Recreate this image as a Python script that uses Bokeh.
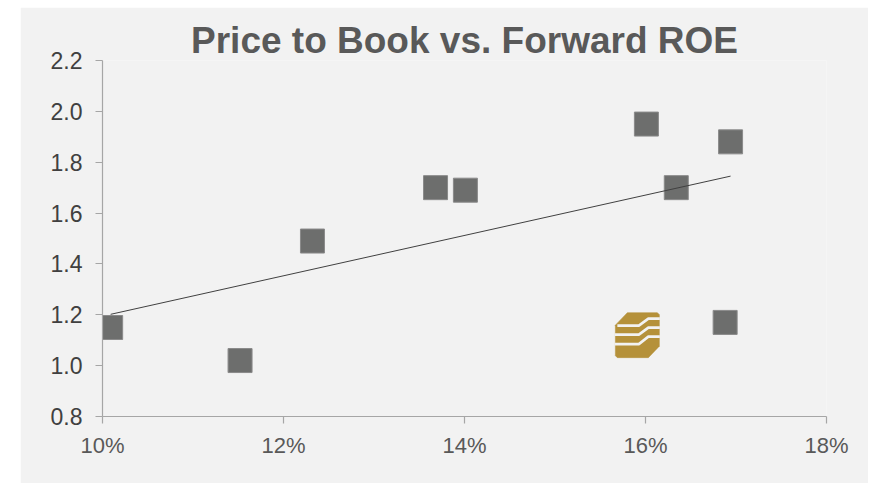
import numpy as np
from bokeh.plotting import figure
from bokeh.models import FixedTicker, Spacer
from bokeh.layouts import row, column
from bokeh.embed import file_html
from bokeh.resources import INLINE

# ---- data ----
roe = [10.09, 11.52, 12.32, 13.68, 14.01, 16.01, 16.34, 16.94, 16.88]   # forward ROE, %
pb = [1.15, 1.02, 1.49, 1.70, 1.69, 1.95, 1.70, 1.88, 1.17]            # price to book
logo_roe = 15.91
logo_pb = 1.12
x_ticks = [10, 12, 14, 16, 18]
x_tick_labels = ["10%", "12%", "14%", "16%", "18%"]
y_ticks = [0.8, 1.0, 1.2, 1.4, 1.6, 1.8, 2.0, 2.2]
y_tick_labels = ["0.8", "1.0", "1.2", "1.4", "1.6", "1.8", "2.0", "2.2"]
title_text = "Price to Book vs. Forward ROE"

FONT = "Liberation Sans"
BG = "#f2f2f2"

W, H = 848, 476
ML, MR, MT, MB = 82, 42, 53, 67

p = figure(width=W, height=H, output_backend="svg", toolbar_location=None,
           title=title_text,
           x_range=(x_ticks[0], x_ticks[-1]), y_range=(y_ticks[0], y_ticks[-1]),
           min_border_left=ML, min_border_right=MR, min_border_top=MT, min_border_bottom=MB)
p.background_fill_color = BG
p.border_fill_color = BG
p.outline_line_color = None
p.xgrid.visible = False
p.ygrid.visible = False

p.title.text_font = FONT
p.title.text_font_size = "37px"
p.title.text_font_style = "bold"
p.title.text_color = "#595959"
p.title.align = "center"
p.title.offset = 12
p.title.standoff = 0

for ax in (p.xaxis[0], p.yaxis[0]):
    ax.axis_line_color = "#a6a6a6"
    ax.axis_line_width = 1.2
    ax.major_tick_line_color = "#a6a6a6"
    ax.major_tick_line_width = 1.2
    ax.major_tick_in = 0
    ax.major_tick_out = 7
    ax.minor_tick_line_color = None
    ax.major_label_text_font = FONT

p.xaxis.ticker = FixedTicker(ticks=x_ticks)
p.xaxis.major_label_overrides = {t: l for t, l in zip(x_ticks, x_tick_labels)}
p.xaxis.major_label_text_color = "#595959"
p.xaxis.major_label_text_font_size = "22px"
p.xaxis.major_label_standoff = 9
p.yaxis.ticker = FixedTicker(ticks=y_ticks)
p.yaxis.major_label_overrides = {t: l for t, l in zip(y_ticks, y_tick_labels)}
p.yaxis.major_label_text_color = "#404040"
p.yaxis.major_label_text_font_size = "23px"
p.yaxis.major_label_standoff = 13

# company logo (decorative mark at its data position)
px_x = (W - ML - MR) / (x_ticks[-1] - x_ticks[0])
px_y = (H - MT - MB) / (y_ticks[-1] - y_ticks[0])
def to_data(pts):
    return ([logo_roe + a / px_x for a, b in pts], [logo_pb - b / px_y for a, b in pts])

shape = [(-22, -10), (-10, -22.5), (20, -22.5), (22, -20.5), (22, 11), (11, 22.5),
         (-20, 22.5), (-22, 20.5)]
sx, sy = to_data(shape)
p.patch(sx, sy, fill_color="#b5913a", line_color="#b5913a", line_width=0.5)
stripes = [
    [(-20, -9.5), (1.5, -9.5), (11, -16.5), (22.5, -16.5)],
    [(-22.5, -0.5), (1.5, -0.5), (11, -7.5), (22.5, -7.5)],
    [(-22.5, 9), (1.5, 9), (11, 1.5), (22.5, 1.5)],
]
for s in stripes:
    lx, ly = to_data(s)
    p.line(lx, ly, line_color=BG, line_width=2.6)

# scatter
p.scatter(roe, pb, marker="square", size=24, fill_color="#6d6e6d", line_color="#8a8a8a",
          line_width=1)

# linear trendline
k, b0 = np.polyfit(roe, pb, 1)
tx = [min(roe), max(roe)]
p.line(tx, [k * t + b0 for t in tx], line_color="#404040", line_width=1)

layout = column(Spacer(width=20, height=7), row(Spacer(width=20, height=H), p))
open("out.html", "w").write(file_html(layout, INLINE))
